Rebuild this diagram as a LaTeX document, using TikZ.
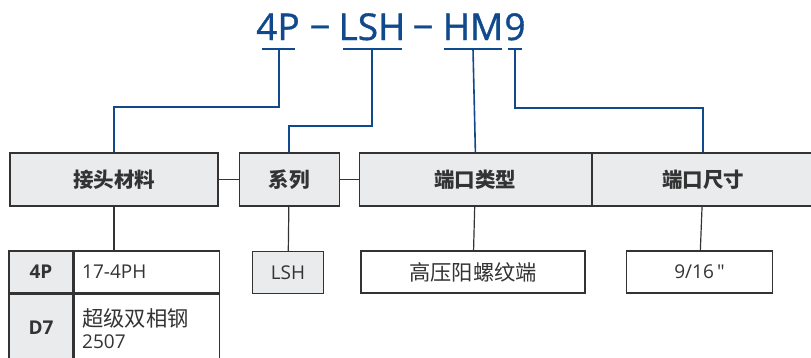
\documentclass[tikz,border=0pt]{standalone}
\usepackage{fontspec}
\setmainfont{Open Sans}
\newfontfamily\cjk{Noto Sans CJK SC}
\newfontfamily\cjkbig[Scale=1.12]{Noto Sans CJK SC}
\newfontfamily\codefont[FakeBold=1]{Open Sans}
\usetikzlibrary{positioning}
\definecolor{codeblue}{RGB}{16,74,140}
\definecolor{headgray}{RGB}{234,235,237}
\definecolor{linegray}{RGB}{51,51,51}
\tikzset{
	head/.style={rectangle, minimum height=53pt, text centered, draw=linegray, fill=headgray, line width=1.2pt, text=linegray, font=\cjk\bfseries\fontsize{20.5}{20.5}\selectfont, inner sep=0pt},
	opt/.style={rectangle, minimum height=42pt, text centered, draw=linegray, line width=1.2pt, text=linegray, font=\fontsize{19}{22}\selectfont, inner sep=0pt},
	key/.style={opt, fill=headgray},
	code/.style={text=codeblue, font=\codefont\fontsize{37}{37}\selectfont, inner sep=0pt, anchor=base},
	link/.style={draw=codeblue, line width=1.6pt},
	wire/.style={draw=linegray, line width=1.2pt}
}
\begin{document}
\begin{tikzpicture}[x=1pt,y=-1pt]
		\useasboundingbox (0,0) rectangle (811,357);
		\clip (0,0) rectangle (811,357);
		% part number
		\node (c4p)[code] at (278,40) {4P};
		\node (dash1)[code] at (320,40) {−};
		\node (clsh)[code] at (372,40) {LSH};
		\node (dash2)[code] at (423,40) {−};
		\node (chm)[code] at (473,40) {HM};
		\node (c9)[code] at (515,40) {9};
		\coordinate (t4p) at (279,49);
		\coordinate (tlsh) at (372,49);
		\coordinate (thm) at (473,49);
		\coordinate (t9) at (515,49);
		\draw [link] (262,49) -- (295,49);
		\draw [link] (343,49) -- (402,49);
		\draw [link] (444,49) -- (502,49);
		\draw [link] (508,49) -- (522,49);
		% headings
		\node (mat)[head, minimum width=208pt] at (114,179.5) {接头材料};
		\node (ser)[head, minimum width=100pt, right=20pt of mat] {系列};
		\node (ptype)[head, minimum width=232pt, right=19pt of ser] {端口类型};
		\node (psize)[head, minimum width=221pt, right=0pt of ptype] {端口尺寸};
		\draw [wire] (mat) -- (ser);
		\draw [wire] (ser) -- (ptype);
		\draw [link] (t4p) -- ++(0,58) -| (mat.north);
		\draw [link] (tlsh) -- ++(0,77) -| (ser.north);
		\draw [link] (thm) -- (ptype.north);
		\draw [link] (t9) -- ++(0,59) -| (psize.north);
		% options
		\node (k4p)[key, minimum width=64pt, font=\bfseries\fontsize{19}{22}\selectfont] at (41,272) {4P};
		\node (v4p)[opt, minimum width=145pt, text width=129pt, inner xsep=8pt, align=left, right=0pt of k4p] {17-4PH};
		\node (kd7)[key, minimum width=64pt, minimum height=68pt, font=\bfseries\fontsize{19}{22}\selectfont, below=0pt of k4p] {D7};
		\node (vd7)[opt, minimum width=145pt, minimum height=68pt, text width=129pt, inner xsep=8pt, align=left, below=0pt of v4p] {{\cjkbig 超级双相钢}\\2507};
		\node (olsh)[key, minimum width=71pt] at (288,272.5) {LSH};
		\node (ohp)[opt, minimum width=224pt] at (473,272) {\cjkbig 高压阳螺纹端};
		\node (o916)[opt, minimum width=146pt] at (699.5,272) {9/16\,\textquotedbl};
		\draw [wire] (mat.south) -- (mat.south |- v4p.north);
		\draw [wire] (ser) -- (olsh);
		\draw [wire] (ptype) -- (ohp);
		\draw [wire] (psize) -- (o916);
	\end{tikzpicture}
\end{document}
